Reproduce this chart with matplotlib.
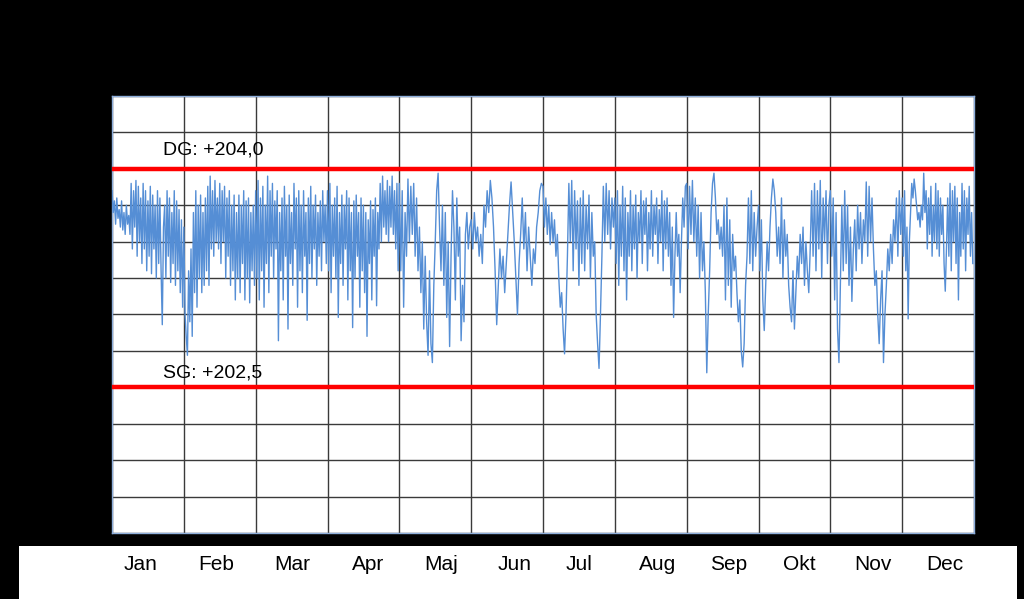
import numpy as np
import matplotlib
matplotlib.use("Agg")
import matplotlib.pyplot as plt
from matplotlib.transforms import blended_transform_factory

plt.rcParams['font.family'] = ['Liberation Sans', 'DejaVu Sans']

months = ["Jan", "Feb", "Mar", "Apr", "Maj", "Jun", "Jul", "Aug", "Sep", "Okt", "Nov", "Dec"]

jan = [203.85, 203.70, 203.78, 203.62, 203.80, 203.66, 203.72, 203.60, 203.78, 203.58,
       203.70, 203.55, 203.75, 203.62, 203.68, 203.55, 203.90, 203.45, 203.85, 203.60,
       203.92, 203.40, 203.88, 203.50, 203.80, 203.35, 203.90, 203.45, 203.85, 203.30,
       203.78, 203.40, 203.88, 203.28, 203.82, 203.45, 203.75, 203.25, 203.85, 203.35,
       203.80, 203.30, 202.93, 203.60, 203.75, 203.25, 203.85, 203.40, 203.80, 203.22,
       203.70, 203.35, 203.85, 203.20, 203.78, 203.30, 203.72, 203.15, 203.65, 203.05]
feb = [203.60, 203.00, 202.85, 202.72, 203.30, 202.95, 203.45, 202.85, 203.70, 203.15,
       203.85, 203.05, 203.75, 203.25, 203.82, 203.15, 203.70, 203.20, 203.80, 203.30,
       203.88, 203.20, 203.95, 203.45, 203.85, 203.40, 203.92, 203.50, 203.80, 203.45,
       203.90, 203.35, 203.85, 203.50, 203.88, 203.25, 203.80, 203.40, 203.85, 203.20,
       203.75, 203.30, 203.82, 203.10, 203.70, 203.25, 203.82, 203.15, 203.75, 203.35,
       203.85, 203.10, 203.78, 203.25, 203.80, 203.08, 203.70, 203.30, 203.75, 203.20]
mar = [203.85, 203.25, 203.92, 203.10, 203.80, 203.30, 203.88, 203.05, 203.75, 203.35,
       203.95, 203.15, 203.85, 203.40, 203.90, 203.25, 203.78, 203.45, 203.85, 202.82,
       203.70, 203.30, 203.80, 203.10, 203.88, 203.40, 203.75, 202.90, 203.82, 203.35,
       203.70, 203.20, 203.90, 203.45, 203.80, 203.05, 203.85, 203.30, 203.75, 203.15,
       203.85, 203.40, 203.70, 202.96, 203.80, 203.35, 203.88, 203.25, 203.75, 203.45,
       203.82, 203.20, 203.70, 203.40, 203.78, 203.30, 203.85, 203.50, 203.75, 203.35]
apr = [203.85, 203.30, 203.90, 203.15, 203.75, 203.40, 203.80, 203.25, 203.88, 202.98,
       203.70, 203.35, 203.82, 203.20, 203.75, 203.45, 203.85, 203.10, 203.80, 203.30,
       203.70, 202.91, 203.78, 203.25, 203.82, 203.40, 203.70, 203.05, 203.80, 203.30,
       203.75, 203.15, 203.70, 202.85, 203.65, 203.35, 203.78, 203.10, 203.72, 203.40,
       203.80, 203.06, 203.70, 203.45, 203.90, 203.50, 203.95, 203.60, 203.85, 203.55,
       203.92, 203.50, 203.88, 203.60, 203.95, 203.55, 203.85, 203.45, 203.90, 203.30]
maj = [203.90, 203.30, 203.85, 203.05, 203.70, 203.40, 203.93, 203.50, 203.88, 203.55,
       203.90, 203.40, 203.80, 203.30, 203.60, 203.15, 203.50, 202.90, 203.40, 202.95,
       202.72, 203.30, 202.80, 202.67, 203.20, 203.50, 203.85, 203.97, 203.60, 203.30,
       203.75, 203.20, 203.70, 202.98, 203.50, 202.78, 203.40, 203.85, 203.60, 203.10,
       203.80, 203.40, 203.60, 202.82, 203.20, 202.95, 203.55, 203.70, 203.45, 203.60]
jun = [203.65, 203.45, 203.70, 203.50, 203.60, 203.40, 203.55, 203.35, 203.75, 203.60,
       203.85, 203.70, 203.92, 203.80, 203.60, 203.30, 202.93, 203.20, 203.45, 203.25,
       203.40, 203.15, 203.35, 203.55, 203.75, 203.91, 203.70, 203.50, 203.25, 203.00,
       203.35, 203.55, 203.80, 203.45, 203.70, 203.30, 203.60, 203.40, 203.20, 203.45,
       203.35, 203.60, 203.70, 203.85, 203.90]
jul = [203.88, 203.60, 203.80, 203.55, 203.75, 203.48, 203.70, 203.50, 203.65, 203.40,
       203.55, 203.25, 203.05, 203.15, 202.90, 202.73, 203.00, 203.40, 203.90, 203.50,
       203.92, 203.30, 203.85, 203.45, 203.78, 203.20, 203.80, 203.35, 203.85, 203.30,
       203.75, 203.45, 203.82, 203.25, 203.70, 203.40, 203.50, 203.00, 202.80, 202.63,
       203.00, 203.40, 203.88, 203.50, 203.90, 203.55, 203.85, 203.45, 203.80, 203.60]
aug = [203.80, 203.35, 203.85, 203.20, 203.75, 203.40, 203.88, 203.30, 203.80, 203.10,
       203.70, 203.40, 203.85, 203.30, 203.75, 203.45, 203.82, 203.25, 203.70, 203.50,
       203.85, 203.35, 203.78, 203.55, 203.80, 203.30, 203.70, 203.45, 203.85, 203.40,
       203.75, 203.55, 203.80, 203.35, 203.72, 203.50, 203.85, 203.30, 203.78, 203.45,
       203.80, 203.40, 203.70, 203.20, 203.60, 202.98, 203.40, 203.70, 203.40, 203.55,
       203.15, 203.50, 203.80, 203.60, 203.88]
sep = [203.90, 203.45, 203.88, 203.55, 203.92, 203.50, 203.80, 203.40, 203.75, 203.25,
       203.70, 203.30, 203.50, 203.15, 202.60, 203.00, 203.30, 203.70, 203.90, 203.97,
       203.80, 203.55, 203.65, 203.45, 203.60, 203.40, 203.75, 203.10, 203.80, 203.20,
       203.65, 203.05, 203.55, 203.30, 203.40, 203.15, 202.95, 203.10, 202.75, 202.64,
       202.80, 203.20, 203.40, 203.80, 203.35, 203.85, 203.30, 203.70, 203.40, 203.60]
okt = [203.75, 203.30, 203.65, 203.10, 202.89, 203.20, 203.50, 203.30, 203.60, 203.80,
       203.93, 203.85, 203.70, 203.40, 203.60, 203.35, 203.80, 203.25, 203.65, 203.40,
       203.55, 203.20, 203.05, 202.95, 203.30, 202.90, 203.15, 203.40, 203.25, 203.55,
       203.35, 203.60, 203.20, 203.50, 203.30, 203.15, 203.45, 203.85, 203.40, 203.90,
       203.30, 203.85, 203.45, 203.92, 203.25, 203.80, 203.50, 203.85, 203.35, 203.75]
nov = [203.85, 203.40, 203.80, 203.10, 203.70, 202.90, 202.67, 203.20, 203.75, 203.30,
       203.85, 203.35, 203.75, 203.20, 203.60, 203.09, 203.45, 203.65, 203.30, 203.75,
       203.45, 203.70, 203.35, 203.65, 203.50, 203.91, 203.40, 203.88, 203.50, 203.80,
       203.45, 203.20, 203.30, 203.00, 202.80, 203.10, 203.30, 202.67, 203.00, 203.20,
       203.45, 203.30, 203.55, 203.35, 203.65, 203.50, 203.80, 203.40, 203.85, 203.55]
dec = [203.80, 203.40, 203.85, 203.30, 203.60, 202.97, 203.50, 203.70, 203.90, 203.80,
       203.93, 203.85, 203.75, 203.65, 203.70, 203.60, 203.75, 203.65, 203.97, 203.70,
       203.85, 203.45, 203.80, 203.55, 203.88, 203.40, 203.75, 203.50, 203.90, 203.45,
       203.85, 203.40, 203.80, 203.55, 203.75, 203.35, 203.16, 203.45, 203.80, 203.40,
       203.90, 203.30, 203.85, 203.50, 203.88, 203.35, 203.80, 203.10, 203.70, 203.40,
       203.90, 203.45, 203.85, 203.30, 203.80, 203.55, 203.88, 203.40, 203.70, 203.35]

dg_level = 204.0
sg_level = 202.5
dg_label = "DG: +204,0"
sg_label = "SG: +202,5"

monthly = [jan, feb, mar, apr, maj, jun, jul, aug, sep, okt, nov, dec]

# build x (month units) and y
xs, ys = [], []
for i, vals in enumerate(monthly):
    n = len(vals)
    xs.extend(i + np.arange(n) / n)
    ys.extend(vals)
xs = np.array(xs)
ys = np.array(ys)

fig = plt.figure(figsize=(10.24, 5.99), dpi=100, facecolor="black")

ax = fig.add_axes([112/1024, 1 - 533/599, 862/1024, 437/599])
ax.set_facecolor("white")
ax.set_xlim(0, 12)
ax.set_ylim(201.5, 204.5)
ax.set_xticks(np.arange(0, 13, 1))
ax.set_yticks(np.arange(201.5, 204.51, 0.25))
ax.tick_params(length=0, labelleft=False, labelbottom=False)
ax.grid(True, color="#3a3a3a", linewidth=1.0)
ax.set_axisbelow(True)
for s in ax.spines.values():
    s.set_color("#8EAEDB")
    s.set_linewidth(1.0)

ax.plot(xs, ys, color="#558ED5", linewidth=1.0, zorder=3)
ax.axhline(dg_level, color="#FF0000", linewidth=3.2, zorder=4)
ax.axhline(sg_level, color="#FF0000", linewidth=3.2, zorder=4)

ax.text(0.71, 204.13, dg_label, fontsize=14, va="center", ha="left", color="black", zorder=5)
ax.text(0.71, 202.595, sg_label, fontsize=14, va="center", ha="left", color="black", zorder=5)

# white strip with month labels
strip = fig.add_axes([19/1024, 0, 998/1024, 53/599])
strip.set_facecolor("white")
strip.set_xticks([])
strip.set_yticks([])
for s in strip.spines.values():
    s.set_visible(False)

label_offsets = [-0.10, -0.05, 0.01, 0.07, 0.08, 0.11, 0.00, 0.10, 0.09, 0.07, 0.10, 0.10]
tr = blended_transform_factory(ax.transData, fig.transFigure)
for i, m in enumerate(months):
    fig.text(i + 0.5 + label_offsets[i], 1 - 565/599, m, transform=tr,
             fontsize=15, ha="center", va="center", color="black")

fig.savefig("out.png", dpi=100, facecolor="black")
